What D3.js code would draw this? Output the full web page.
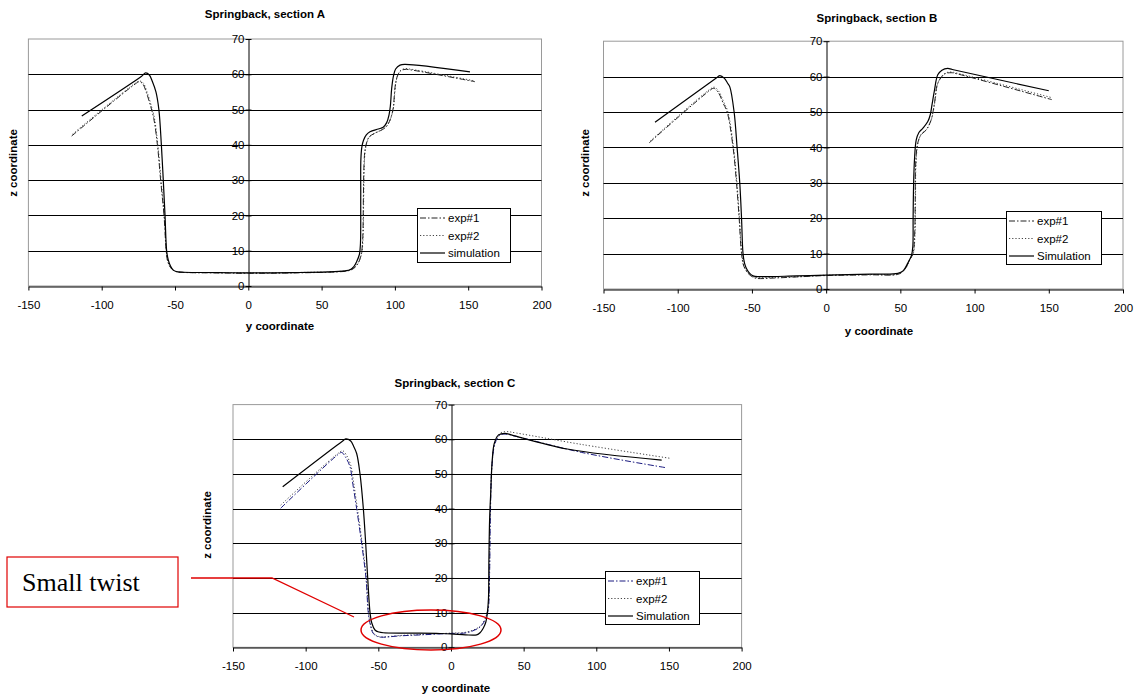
<!DOCTYPE html>
<html><head><meta charset="utf-8">
<script src="https://cdn.jsdelivr.net/npm/d3@7"></script>
<style>body{margin:0;background:#fff;} svg{display:block;}</style>
</head><body>
<svg id="c" width="1139" height="696"></svg>
<script>
// ---------- DATA ([y coordinate, z coordinate]) ----------
const xTicks = [-150, -100, -50, 0, 50, 100, 150, 200];
const yTicks = [0, 10, 20, 30, 40, 50, 60, 70];
const gridValues = [10, 20, 30, 40, 50, 60];

const titles = ["Springback, section A", "Springback, section B", "Springback, section C"];
const legendA = ["exp#1", "exp#2", "simulation"];
const legendBC = ["exp#1", "exp#2", "Simulation"];

const simA = [[-113.6,48.2],[-73,59.4],[-70,60.4],[-67.5,59.8],[-65.5,58],[-63,55],[-61,50],[-59.3,40],[-58,30],[-56.8,20],[-55.7,10],[-54.6,7.4],[-53,5.6],[-51.2,4.5],[-48,4],[-44,3.9],[-20,3.8],[0,3.7],[30,3.8],[55,4],[66,4.3],[69.4,4.6],[72,5.5],[74,7],[75.8,9],[76.5,12],[76.7,25],[76.8,36],[77.5,39.5],[78.6,41.3],[80.5,42.8],[83,43.7],[88.7,44.5],[92,45],[94.4,46.3],[96,48.5],[96.9,51],[97.8,56],[99,59.5],[100.5,61.5],[103.5,62.6],[106.9,62.8],[151.2,60.7]];
const exp1A = [[-120.5,42.5],[-77,57.3],[-74.4,57.9],[-72,57.3],[-69.5,54.8],[-67,51.5],[-64.5,47.5],[-62,40],[-59.8,30],[-57.5,20],[-56,10],[-55,7],[-53,5.2],[-50,4.2],[-46,3.9],[-20,3.7],[0,3.6],[30,3.7],[60,4],[68,4.3],[72,5],[75,6.5],[77,9],[78,13],[78.5,25],[78.9,34],[79.6,38.5],[81,41],[82.5,42.3],[86.4,43.3],[90,44],[93.2,44.8],[95.5,46],[97.5,48],[98.9,50.5],[99.6,54],[100.5,57.5],[102,59.8],[104,61],[106.9,61.4],[110,61.3],[154.6,57.9]];
const exp2A = [[-120,43],[-77,57.5],[-74,58.1],[-71.6,57.5],[-69.1,55],[-66.6,51.7],[-64.1,47.7],[-61.7,40],[-59.5,30],[-57.3,20],[-55.9,10],[-54.9,7],[-53,5.2],[-50,4.2],[-46,3.9],[-20,3.8],[0,3.7],[30,3.8],[60,4.1],[68,4.4],[72,5.1],[75,6.6],[77.2,9],[78.2,13],[78.7,25],[79.1,34],[79.8,38.5],[81.2,41],[82.7,42.3],[86.6,43.4],[90.2,44.1],[93.4,44.9],[95.7,46.1],[97.7,48.2],[99.1,50.7],[99.8,54.2],[100.7,57.7],[102.2,60],[104.2,61.2],[107,61.6],[110,61.5],[153.5,58.2]];

const simB = [[-115.3,47.1],[-74,59.6],[-71.6,60.3],[-68.5,59.5],[-66.5,58.2],[-64.9,57.1],[-62,50],[-60,40],[-58.2,30],[-57,20],[-56,10],[-55,7.3],[-53.7,5.8],[-51.5,4.4],[-49.2,3.7],[-45,3.5],[-20,3.7],[0,3.9],[30,4.2],[48.3,4.4],[52,5.2],[55,7.3],[57.5,9.5],[58.4,12],[58.6,20],[58.9,29],[59.5,36.4],[60.7,42.1],[62.5,44.2],[65.1,45.4],[68.5,47.3],[70.2,49.3],[71.3,52],[73,56.2],[75.2,60.5],[78,61.8],[81.9,62.3],[85,62],[150,56]];
const exp1B = [[-119.2,41.3],[-78,56.2],[-75.7,56.7],[-72.5,55.4],[-69.4,52.5],[-66.7,50],[-62.7,40],[-60.4,30],[-58.6,20],[-57,10],[-55.5,6.5],[-52.6,4.4],[-49.5,3.4],[-46.9,3.0],[-35,3.1],[-20,3.4],[0,3.8],[30,4],[48,4.1],[51.6,4.9],[54,6.2],[56.2,8.2],[58.5,10],[59.6,15],[60,25],[60.3,35],[61.7,41.2],[64,43.6],[67.4,44.9],[70.7,47.7],[73,52.5],[75.2,58.1],[79.7,60.7],[84.2,61.1],[88,60.8],[152,53.5]];
const exp2B = [[-118.5,41.8],[-78,56.5],[-75.3,57],[-72.1,55.7],[-69,52.8],[-66.3,50.2],[-62.4,40],[-60.1,30],[-58.4,20],[-56.8,10],[-55.3,6.5],[-52.4,4.5],[-49.3,3.5],[-46.7,3.2],[-35,3.3],[-20,3.5],[0,3.9],[30,4.1],[48,4.2],[51.8,5],[54.2,6.3],[56.4,8.3],[58.7,10],[59.8,15],[60.2,25],[60.5,35],[61.9,41.3],[64.2,43.8],[67.6,45.1],[70.9,47.9],[73.2,52.7],[75.4,58.3],[79.9,60.9],[84.4,61.3],[88,61],[152.5,54]];

const simC = [[-115.8,46.3],[-74.5,59.5],[-72.3,60.1],[-69,59.5],[-67,58],[-64.9,55.9],[-62.6,50],[-60.3,40],[-58.7,30],[-57.3,20],[-55.7,10],[-54.5,7],[-52.3,5],[-49.5,4.4],[-46.6,4.2],[-30,4.1],[-10,4],[0,3.9],[10,3.6],[17.7,3.6],[20,4.2],[22.2,5.5],[24,7.3],[25,9.8],[25.8,14],[26.1,25],[26.6,37],[27.3,44],[28.4,54],[29.8,58.8],[32.6,61.2],[37.2,61.7],[42,61.2],[80,57.2],[145,54]];
const exp1C = [[-117.2,40.1],[-78,55.5],[-75.2,56.2],[-72.5,54.8],[-69.5,52.1],[-67.5,47],[-64.9,40],[-61.5,30],[-58.5,20],[-56.9,10],[-55.5,6.5],[-53.5,4.0],[-50.5,3.1],[-47.7,2.9],[-35,3.3],[-20,3.6],[0,4.0],[10.8,4.2],[18.8,5.5],[21.5,6.5],[23.4,7.9],[25.5,10.5],[26.5,20],[27,35],[27.5,45],[28,51.1],[30.3,58.8],[33.7,61.2],[37.2,61.5],[45,60.8],[90,56.2],[148,51.8]];
const exp2C = [[-117.2,41],[-77.5,56],[-74.5,56.7],[-71.8,55.3],[-69,52.6],[-67,47.5],[-64.4,40],[-61.1,30],[-58.2,20],[-56.7,10],[-55.3,6.5],[-53.3,4.1],[-50.3,3.2],[-47.5,3],[-35,3.4],[-20,3.7],[0,4.1],[10.8,4.4],[18.8,5.7],[21.5,6.8],[23.4,8.2],[25.4,11],[26.4,20],[26.9,35],[27.4,45],[28.1,52],[30.5,59.5],[34,61.8],[38.3,62.2],[45,61.8],[90,58.5],[151,54.5]];

// ---------- LAYOUT ----------
const svg = d3.select("#c");
const FONT = "'Liberation Sans', Arial, sans-serif";

const charts = [
  {title: titles[0], legend: legendA, sim: simA, e1: exp1A, e2: exp2A, e1Color: "#222",
   L: 28.4, R: 541.5, T: 39, B: 286, titleX: 265, titleY: 18, yLabX: 280, yLabY: 330, zLabX: 17, zLabY: 163,
   lgX: 417, lgY: 208, lgW: 93, lgH: 54},
  {title: titles[1], legend: legendBC, sim: simB, e1: exp1B, e2: exp2B, e1Color: "#222",
   L: 603.5, R: 1123, T: 41.2, B: 289, titleX: 877, titleY: 22, yLabX: 879, yLabY: 335, zLabX: 589, zLabY: 163,
   lgX: 1006, lgY: 211, lgW: 95, lgH: 53},
  {title: titles[2], legend: legendBC, sim: simC, e1: exp1C, e2: exp2C, e1Color: "#1a1a80",
   L: 233, R: 741.6, T: 404.6, B: 647.3, titleX: 455, titleY: 387, yLabX: 456, yLabY: 692, zLabX: 211, zLabY: 525,
   lgX: 605, lgY: 571, lgW: 94, lgH: 53}
];

charts.forEach(c => {
  const g = svg.append("g");
  const x = d3.scaleLinear().domain([-150, 200]).range([c.L, c.R]);
  const y = d3.scaleLinear().domain([0, 70]).range([c.B, c.T]);

  // plot area border (gray)
  g.append("rect").attr("x", c.L).attr("y", c.T).attr("width", c.R - c.L).attr("height", c.B - c.T)
    .attr("fill", "none").attr("stroke", "#9a9a9a").attr("stroke-width", 1);

  // gridlines
  g.selectAll(".grid").data(gridValues).join("line")
    .attr("x1", c.L).attr("x2", c.R)
    .attr("y1", d => Math.round(y(d)) + 0.5).attr("y2", d => Math.round(y(d)) + 0.5)
    .attr("stroke", "#000").attr("stroke-width", 1);

  // x axis at z=0
  const xAxis = d3.axisBottom(x).tickValues(xTicks).tickSize(4).tickSizeOuter(0).tickPadding(10).tickFormat(d => String(d));
  const gx = g.append("g").attr("transform", `translate(0,${Math.round(y(0)) + 0.5})`).call(xAxis);
  gx.select(".domain").attr("stroke", "#000");
  gx.selectAll(".tick line").attr("stroke", "#000");
  gx.selectAll("text").attr("font-family", FONT).attr("font-size", 11.5).attr("fill", "#000");

  // y axis at y=0
  const yAxis = d3.axisLeft(y).tickValues(yTicks).tickSize(0).tickPadding(4).tickFormat(d => String(d));
  const gy = g.append("g").attr("transform", `translate(${Math.round(x(0)) + 0.5},0)`).call(yAxis);
  gy.select(".domain").attr("stroke", "#000");
  gy.selectAll(".tick").append("line").attr("x1", -3).attr("x2", 3).attr("stroke", "#000");
  gy.selectAll("text").attr("font-family", FONT).attr("font-size", 11.5).attr("fill", "#000");

  // curves
  const line = d3.line().x(d => x(d[0])).y(d => y(d[1])).curve(d3.curveCatmullRom.alpha(0.5));
  g.append("path").datum(c.e2).attr("d", line).attr("fill", "none")
    .attr("stroke", "#444").attr("stroke-width", 1).attr("stroke-dasharray", "1.2,2");
  g.append("path").datum(c.e1).attr("d", line).attr("fill", "none")
    .attr("stroke", c.e1Color).attr("stroke-width", 1).attr("stroke-dasharray", "6,2,1.5,2");
  g.append("path").datum(c.sim).attr("d", line).attr("fill", "none")
    .attr("stroke", "#000").attr("stroke-width", 1.2);

  // titles
  g.append("text").attr("x", c.titleX).attr("y", c.titleY).attr("text-anchor", "middle")
    .attr("font-family", FONT).attr("font-size", 11.5).attr("font-weight", "bold").text(c.title);
  g.append("text").attr("x", c.yLabX).attr("y", c.yLabY).attr("text-anchor", "middle")
    .attr("font-family", FONT).attr("font-size", 11.5).attr("font-weight", "bold").text("y coordinate");
  g.append("text").attr("transform", `translate(${c.zLabX},${c.zLabY}) rotate(-90)`).attr("text-anchor", "middle")
    .attr("font-family", FONT).attr("font-size", 11.5).attr("font-weight", "bold").text("z coordinate");

  // legend
  const lg = g.append("g").attr("transform", `translate(${c.lgX},${c.lgY})`);
  lg.append("rect").attr("x", 0.5).attr("y", 0.5).attr("width", c.lgW).attr("height", c.lgH)
    .attr("fill", "#fff").attr("stroke", "#000");
  const styles = [
    {dash: "6,2,1.5,2", color: c.e1Color, w: 1},
    {dash: "1.2,2", color: "#444", w: 1},
    {dash: null, color: "#000", w: 1.2}
  ];
  c.legend.forEach((name, i) => {
    const yy = 10 + i * 17.5;
    lg.append("line").attr("x1", 3).attr("x2", 28).attr("y1", yy).attr("y2", yy)
      .attr("stroke", styles[i].color).attr("stroke-width", styles[i].w)
      .attr("stroke-dasharray", styles[i].dash);
    lg.append("text").attr("x", 31).attr("y", yy + 4).attr("font-family", FONT).attr("font-size", 11.5).text(name);
  });
});

// ---------- annotation ----------
const ann = svg.append("g");
ann.append("rect").attr("x", 7).attr("y", 557).attr("width", 171).attr("height", 50)
  .attr("fill", "#fff").attr("stroke", "#e00000").attr("stroke-width", 1.2);
ann.append("text").attr("x", 22).attr("y", 591).attr("font-family", "'Liberation Serif', 'Times New Roman', serif")
  .attr("font-size", 26).attr("fill", "#000").text("Small twist");
ann.append("polyline").attr("points", "191,578 272,578 354,617").attr("fill", "none")
  .attr("stroke", "#e00000").attr("stroke-width", 1.3);
ann.append("ellipse").attr("cx", 431).attr("cy", 630).attr("rx", 70).attr("ry", 20)
  .attr("fill", "none").attr("stroke", "#e00000").attr("stroke-width", 1.5);
</script>
</body></html>
